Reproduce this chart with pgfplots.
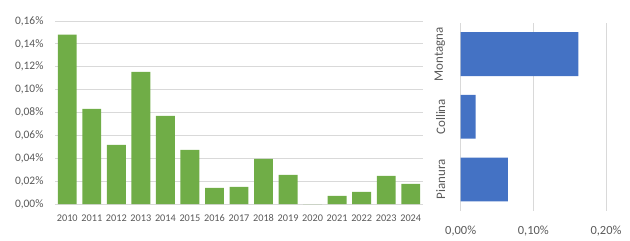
\documentclass[border=0pt]{standalone}
\usepackage{pgfplots}
\pgfplotsset{compat=1.18}
\usepackage{fontspec}
\setmainfont{Carlito}
\definecolor{bargreen}{HTML}{70AD47}
\definecolor{barblue}{HTML}{4472C4}
\definecolor{gridgray}{HTML}{D9D9D9}
\definecolor{txtgray}{HTML}{595959}
\begin{document}
\begin{tikzpicture}[x=1bp,y=1bp]
\useasboundingbox (0,0) rectangle (630,240);
\pgfplotsset{
  every tick label/.append style={text=txtgray},
}
\begin{axis}[
  at={(55bp,36bp)}, anchor=south west,
  scale only axis, width=368bp, height=183bp,
  xmin=-0.5, xmax=14.5, ymin=0, ymax=0.16,
  ytick={0,0.02,...,0.161},
  xtick={0,...,14},
  xticklabels={2010,2011,2012,2013,2014,2015,2016,2017,2018,2019,2020,2021,2022,2023,2024},
  ymajorgrids, grid style={gridgray, line width=0.8pt},
  axis line style={draw=none},
  major tick length=0pt,
  /pgf/number format/assume math mode=true,
  yticklabel={\pgfmathprintnumber[fixed,fixed zerofill,precision=2,use comma]{\tick}\%},
  yticklabel style={xshift=-8bp, font=\fontsize{11.5}{13}\selectfont},
  xticklabel style={yshift=-7bp, font=\fontsize{10.3}{12}\selectfont},
  ybar, bar width=0.77,
]
\addplot[fill=bargreen, draw=none] coordinates {
(0,0.148) (1,0.0832) (2,0.0517) (3,0.1156) (4,0.0771) (5,0.0473) (6,0.0140) (7,0.0149)
(8,0.0394) (9,0.0254) (10,0) (11,0.0070) (12,0.0105) (13,0.0245) (14,0.0175)};
\end{axis}
\begin{axis}[
  at={(460.7bp,29.2bp)}, anchor=south west,
  scale only axis, width=145.3bp, height=188bp,
  xmin=0, xmax=0.2, ymin=-0.5, ymax=2.5,
  xtick={0,0.1,0.2},
  ytick={0,1,2},
  yticklabels={Pianura,Collina,Montagna},
  yticklabel style={rotate=90, anchor=south, font=\fontsize{13}{15}\selectfont},
  yticklabel shift=12bp,
  xmajorgrids, grid style={gridgray, line width=0.8pt},
  axis line style={draw=none},
  major tick length=0pt,
  /pgf/number format/assume math mode=true,
  xticklabel={\pgfmathprintnumber[fixed,fixed zerofill,precision=2,use comma]{\tick}\%},
  xticklabel style={yshift=-12bp, font=\fontsize{12.5}{14}\selectfont},
  xbar, bar width=0.7,
]
\addplot[fill=barblue, draw=none] coordinates {(0.065,0) (0.0206,1) (0.162,2)};
\end{axis}
\end{tikzpicture}
\end{document}
